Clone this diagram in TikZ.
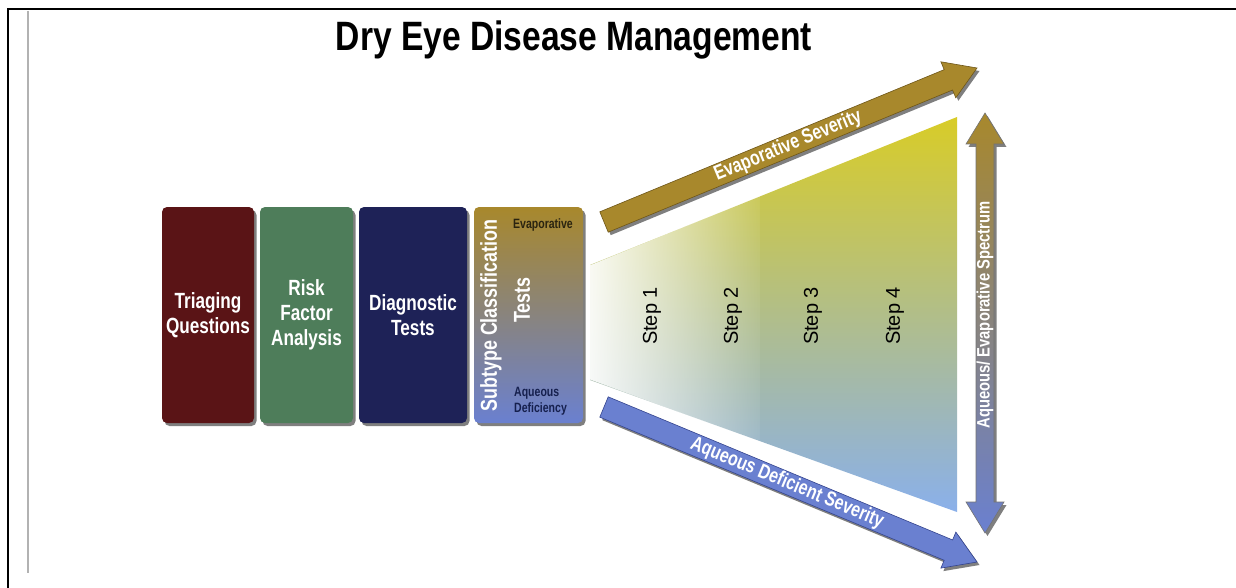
\documentclass[tikz,border=0pt]{standalone}
\usepackage{fontspec}
\setmainfont{Liberation Sans}
\newfontfamily\cond{Liberation Sans}[FakeStretch=0.78]
\newfontfamily\condT{Liberation Sans}[FakeStretch=0.82]
\usetikzlibrary{calc,shadows,fadings}
\definecolor{boxred}{HTML}{5A1416}
\definecolor{boxgreen}{HTML}{4E7D5A}
\definecolor{boxnavy}{HTML}{1E2257}
\definecolor{gold}{HTML}{A8882C}
\definecolor{golddark}{HTML}{6E5618}
\definecolor{blueA}{HTML}{6A80D0}
\definecolor{bluedark}{HTML}{34448E}
\definecolor{midgrn}{HTML}{98A070}
\definecolor{funY}{HTML}{D8CC28}
\definecolor{funG}{HTML}{BAC26A}
\definecolor{funB}{HTML}{8AB0EA}
\definecolor{labdark}{HTML}{2A2410}
\definecolor{labnavy}{HTML}{16204E}
\tikzfadingfrompicture[name=fadeR]
\shade[left color=transparent!0, right color=transparent!100] (0,0) rectangle (2,2);
\endtikzfadingfrompicture
\tikzset{
  shadowed/.style={drop shadow={shadow xshift=2.5pt, shadow yshift=-3pt, opacity=0.5, fill=black}},
  stepbox/.style={shadowed, rounded corners=5pt, minimum height=216pt, inner sep=0pt,
    text=white, align=center, font=\cond\bfseries\fontsize{22}{25}\selectfont},
  whitelbl/.style={text=white, inner sep=0pt, font=\cond\bfseries\fontsize{23}{26}\selectfont},
  smalllbl/.style={inner sep=0pt, font=\cond\bfseries\fontsize{13.5}{16}\selectfont},
  steplbl/.style={inner sep=0pt, rotate=90, font=\fontsize{20}{24}\selectfont},
  arrowtext/.style={text=white, inner sep=0pt, font=\cond\bfseries\fontsize{20.5}{22}\selectfont},
  bigarrow/.style={shadowed, line width=0.6pt, line join=miter}
}
\begin{document}
\begin{tikzpicture}[x=1pt,y=-1pt]
\useasboundingbox (0,0) rectangle (1236,588);
\fill[white] (0,0) rectangle (1236,588);
% frame lines
\draw[line width=2pt] (8,588) -- (8,9.5) -- (1236,9.5);
\draw[line width=2.5pt, black!30] (28,11) -- (28,573);

% title
\node[font=\condT\bfseries\fontsize{41}{46}\selectfont, inner sep=0pt] (title) at (574,40) {Dry Eye Disease Management};

% funnel
\shade[top color=funY, middle color=funG, bottom color=funB]
  (590,265) -- (957,117) -- (957,512) -- (590,380) -- cycle;
\fill[white, path fading=fadeR] (586,267) -- (760,196) -- (760,442) -- (586,378) -- cycle;

% boxes
\node[stepbox, fill=boxred, minimum width=92pt] (triage) at (208,315) {Triaging\\Questions};
\node[stepbox, fill=boxgreen, minimum width=93pt] (risk) at (306.5,315) {Risk\\Factor\\Analysis};
\node[stepbox, fill=boxnavy, minimum width=108pt] (diag) at (413,315) {Diagnostic\\Tests};
\node[stepbox, top color=gold, middle color=midgrn, bottom color=blueA, minimum width=109pt] (subtype) at (528.5,315) {};
\node[whitelbl, rotate=90] (subtxt) at (491,315.5) {Subtype Classification};
\node[whitelbl, rotate=90] (tests) at (522,300) {Tests};
\node[smalllbl, text=labdark] (evap) at (543,225) {Evaporative};
\node[smalllbl, text=labnavy, anchor=west, align=left] (aqdef) at (514,401) {Aqueous\\Deficiency};

% top arrow (evaporative severity)
\coordinate (eT) at (604,222);
\coordinate (eP) at (977,68);
\coordinate (eB) at ($(eP)!31pt!(eT)$);
\path[bigarrow, fill=gold, draw=golddark]
  ($(eT)!11pt!90:(eP)$) -- ($(eB)!11pt!-90:(eT)$) -- ($(eB)!19.5pt!-90:(eT)$) -- (eP)
  -- ($(eB)!19.5pt!90:(eT)$) -- ($(eB)!11pt!90:(eT)$) -- ($(eT)!11pt!-90:(eP)$) -- cycle;
\node[arrowtext, rotate=22.4] (evaptxt) at (788,146) {Evaporative Severity};

% bottom arrow (aqueous deficient severity)
\coordinate (aT) at (604,407);
\coordinate (aP) at (977,562);
\coordinate (aB) at ($(aP)!31pt!(aT)$);
\path[bigarrow, fill=blueA, draw=bluedark]
  ($(aT)!11pt!90:(aP)$) -- ($(aB)!11pt!-90:(aT)$) -- ($(aB)!19.5pt!-90:(aT)$) -- (aP)
  -- ($(aB)!19.5pt!90:(aT)$) -- ($(aB)!11pt!90:(aT)$) -- ($(aT)!11pt!-90:(aP)$) -- cycle;
\node[arrowtext, rotate=-22.6] (aqtxt) at (787,483) {Aqueous Deficient Severity};

% vertical double arrow
\path[bigarrow, top color=gold, middle color=midgrn, bottom color=blueA, draw=black!55]
  (985,113) -- (1004,144) -- (994,144) -- (994,502) -- (1004,502) -- (985,533)
  -- (966,502) -- (976,502) -- (976,144) -- (966,144) -- cycle;
\node[text=white, inner sep=0pt, rotate=90, font=\condT\bfseries\fontsize{18}{20}\selectfont] (spectrum) at (985,315) {Aqueous/ Evaporative Spectrum};

% steps
\node[steplbl] (s1) at (652,316) {Step 1};
\node[steplbl] (s2) at (733,316) {Step 2};
\node[steplbl] (s3) at (813,316) {Step 3};
\node[steplbl] (s4) at (895,316) {Step 4};
\end{tikzpicture}
\end{document}
